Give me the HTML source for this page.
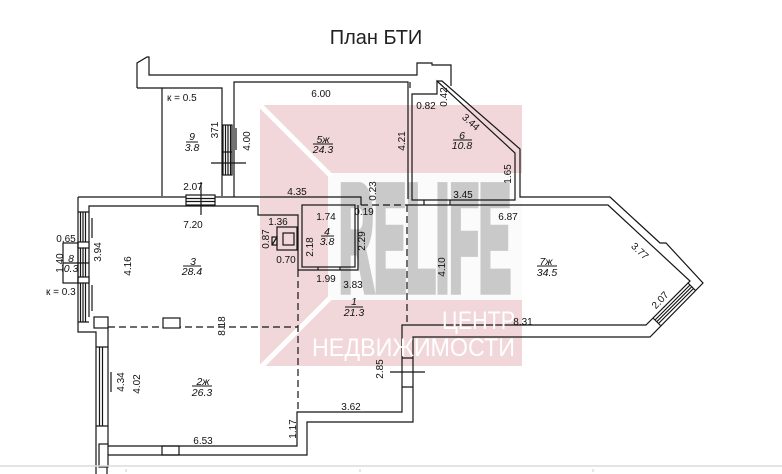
<!DOCTYPE html>
<html><head><meta charset="utf-8"><style>
html,body{margin:0;padding:0;background:#fff;}
svg{display:block;}
text{font-family:"Liberation Sans","DejaVu Sans",sans-serif;fill:#111;}
.l{font-size:10px;}
.r{font-size:10.5px;font-style:italic;}
</style></head><body>
<svg width="782" height="474" viewBox="0 0 782 474" xmlns="http://www.w3.org/2000/svg">
<rect width="782" height="474" fill="#fff"/>
<!-- watermark -->
<rect x="260" y="105" width="262" height="261" fill="#f1d7d9"/>
<rect x="328" y="173" width="194" height="127" fill="#fbfbfb"/>
<line x1="257" y1="102" x2="331" y2="176" stroke="#fff" stroke-width="5"/>
<line x1="331" y1="297" x2="259" y2="369" stroke="#fff" stroke-width="5"/>
<text transform="translate(339,290) scale(1,3)" font-size="50" font-weight="bold" textLength="172" lengthAdjust="spacingAndGlyphs" style="fill:#c9c9c9" stroke="#c9c9c9" stroke-width="7" vector-effect="non-scaling-stroke" stroke-linejoin="miter">RELIFE</text>

<text x="376" y="44" text-anchor="middle" font-size="20" style="fill:#222">План БТИ</text>

<g fill="none" stroke="#151515" stroke-width="1.2">
<!-- top outer wall -->
<path d="M137,88 L137,63 L147,57 L149,57 L149,75 L417,75 L417,63 L432,63 L432,65 L451,65 L451,86"/>
<path d="M137,88 L162,88"/>
<!-- room 9 -->
<path d="M162,196 L162,88 L222,88 L222,196"/>
<!-- room 5 -->
<path d="M234,197 L234,82 L408,82 L408,199"/>
<path d="M410,82 L410,88"/>
<!-- room 6 -->
<path d="M412,200 L412,94 L437,94 L437,81 L515,153 L515,200 Z"/>
<!-- outer right/bottom -->
<path d="M437,81 L442,81 L520,149 L520,197 L610,197 L660,243 L666,243 L703,283 L650,337 L413,337 L413,422 L307,422 L307,455 L108,455"/>
<!-- inner room 7 / bottom -->
<path d="M407,205 L608,205 L690,281 L646,325 L402,325 L402,412 L297,412 L297,446 L108,446 L108,328"/>
<!-- top of room 3 line -->
<path d="M78,197 L361,197 L361,205"/>
<!-- left outer -->
<path d="M78,197 L78,332 L96,332 L96,474"/>
<path d="M107,467 L107,474"/>
<!-- room 3 inner -->
<path d="M89,317 L89,206 L258,206 L258,215 L298,215 L298,270"/>
<rect x="94" y="317" width="14" height="11"/>
<!-- left window -->
<path d="M80.5,212 L80.5,322 M83,212 L83,322 M85.5,212 L85.5,322 M78,212 L89,212 M78,322 L89,322"/>
<rect x="78" y="242" width="11" height="6" fill="#fff"/>
<rect x="78" y="277" width="11" height="6" fill="#fff"/>
<path d="M92,218 L92,238 M92,285 L92,311"/>
<!-- loggia 8 -->
<rect x="63" y="243" width="15" height="40"/>
<path d="M63,263 L89,263"/>
<!-- room 9 window -->
<rect x="223" y="125" width="9" height="50" fill="#fff"/>
<path d="M225.5,125 L225.5,175 M228,125 L228,175 M230.5,125 L230.5,175 M223,152 L232,152"/>
<path d="M211,163 L246,163 M236,128 L236,150"/>
<!-- room 9 door -->
<rect x="186" y="195" width="29" height="10" fill="#fff"/>
<path d="M186,198.5 L215,198.5 M186,201.5 L215,201.5 M201,182 L201,215"/>
<!-- room 4 -->
<rect x="302" y="205" width="53" height="62"/>
<path d="M298,270 L358,270 L358,205 M318,267 L318,270 M340,267 L340,270"/>
<!-- fireplace -->
<rect x="277" y="227" width="20" height="23"/>
<rect x="283" y="233" width="11" height="12"/>
<path d="M272,237 L277,237 L277,245 L272,245 Z M272,245 L277,237"/>
<!-- room6/7 door ticks -->
<path d="M424,200 L424,205 M450,200 L450,205"/>
<!-- room 7 window -->
<path d="M690,285 L655,320 M691.75,286.75 L656.75,321.75 M693.5,288.5 L658.5,323.5 M688,283 L695.5,290.5 M653,318 L660.5,325.5"/>
<!-- right bottom window -->
<path d="M402,358 L413,358 M402,387 L413,387 M390,372 L425,372"/>
<!-- room 2 left window -->
<path d="M99.5,347 L99.5,426 M102.5,347 L102.5,426 M96,347 L108,347 M96,426 L108,426 M111,372 L111,392"/>
<rect x="99" y="444" width="9" height="23" fill="#fff"/>
<rect x="162" y="446" width="17" height="9"/>
<!-- dashed -->
<path d="M361,205 L407,205 M407,205 L407,325 M108,327 L298,327 M298,270 L298,412" stroke-dasharray="7 4"/>
</g>
<rect x="163" y="318" width="17" height="10" fill="#fff" stroke="#151515" stroke-width="1.2"/>

<!-- gray footer line -->
<line x1="0" y1="466" x2="782" y2="466" stroke="#dcdcdc" stroke-width="1.5"/>
<path d="M126,469 L126,472 M360,469 L360,472 M593,469 L593,472" stroke="#ccc" stroke-width="1"/>

<!-- labels horizontal -->
<g class="l" text-anchor="middle">
<text x="321" y="97">6.00</text>
<text x="193" y="190">2.07</text>
<text x="297" y="195">4.35</text>
<text x="426" y="109">0.82</text>
<text x="463" y="198">3.45</text>
<text x="508" y="220">6.87</text>
<text x="193" y="228">7.20</text>
<text x="278" y="225">1.36</text>
<text x="286" y="263">0.70</text>
<text x="326" y="220">1.74</text>
<text x="364" y="215">0.19</text>
<text x="326" y="282">1.99</text>
<text x="353" y="288">3.83</text>
<text x="523" y="325">8.31</text>
<text x="66" y="242">0,65</text>
<text x="203" y="444">6.53</text>
<text x="351" y="410">3.62</text>
</g>
<text class="l" x="167" y="101">к = 0.5</text>
<text class="l" x="46" y="295">к = 0.3</text>

<!-- vertical labels -->
<g class="l" text-anchor="middle">
<text transform="translate(218,130) rotate(-90)">371</text>
<text transform="translate(250,141) rotate(-90)">4.00</text>
<text transform="translate(405,141) rotate(-90)">4.21</text>
<text transform="translate(447,97) rotate(-90)">0.42</text>
<text transform="translate(511,174) rotate(-90)">1.65</text>
<text transform="translate(376,191) rotate(-90)">0.23</text>
<text transform="translate(269,239) rotate(-90)">0.87</text>
<text transform="translate(313,247) rotate(-90)">2.18</text>
<text transform="translate(365,241) rotate(-90)">2.29</text>
<text transform="translate(445,267) rotate(-90)">4.10</text>
<text transform="translate(101,252) rotate(-90)">3.94</text>
<text transform="translate(131,266) rotate(-90)">4.16</text>
<text transform="translate(63,263) rotate(-90)">1.40</text>
<text transform="translate(225,326) rotate(-90)">8.18</text>
<text transform="translate(124,382) rotate(-90)">4.34</text>
<text transform="translate(140,384) rotate(-90)">4.02</text>
<text transform="translate(296,429) rotate(-90)">1.17</text>
<text transform="translate(383,369) rotate(-90)">2.85</text>
<text transform="translate(471,122) rotate(42)" dy="3.5">3.44</text>
<text transform="translate(640,251) rotate(43)" dy="3.5">3.77</text>
<text transform="translate(660,300) rotate(-47)" dy="3.5">2.07</text>
</g>

<!-- room fractions -->
<g class="r" text-anchor="middle">
<text x="192" y="140">9</text><text x="192" y="151">3.8</text>
<text x="323" y="143">5ж</text><text x="323" y="153">24.3</text>
<text x="462" y="139">6</text><text x="462" y="149">10.8</text>
<text x="327" y="235">4</text><text x="327" y="245">3.8</text>
<text x="354" y="305">1</text><text x="354" y="316">21.3</text>
<text x="546" y="265">7ж</text><text x="547" y="276">34.5</text>
<text x="193" y="265">3</text><text x="192" y="275">28.4</text>
<text x="71" y="262">8</text><text x="71" y="272">0.3</text>
<text x="203" y="385">2ж</text><text x="202" y="396">26.3</text>
</g>
<g stroke="#151515" stroke-width="1">
<line x1="186" y1="142" x2="198" y2="142"/>
<line x1="313" y1="144" x2="333" y2="144"/>
<line x1="453" y1="140" x2="472" y2="140"/>
<line x1="321" y1="236" x2="334" y2="236"/>
<line x1="345" y1="307" x2="363" y2="307"/>
<line x1="537" y1="266" x2="557" y2="266"/>
<line x1="183" y1="266" x2="201" y2="266"/>
<line x1="192" y1="386" x2="212" y2="386"/>
</g>

<!-- watermark white text -->
<text x="515" y="329" text-anchor="end" font-size="25" textLength="73" lengthAdjust="spacingAndGlyphs" style="fill:#fff">ЦЕНТР</text>
<text x="312" y="356" font-size="25" textLength="203" lengthAdjust="spacingAndGlyphs" style="fill:#fff">НЕДВИЖИМОСТИ</text>
</svg>
</body></html>
